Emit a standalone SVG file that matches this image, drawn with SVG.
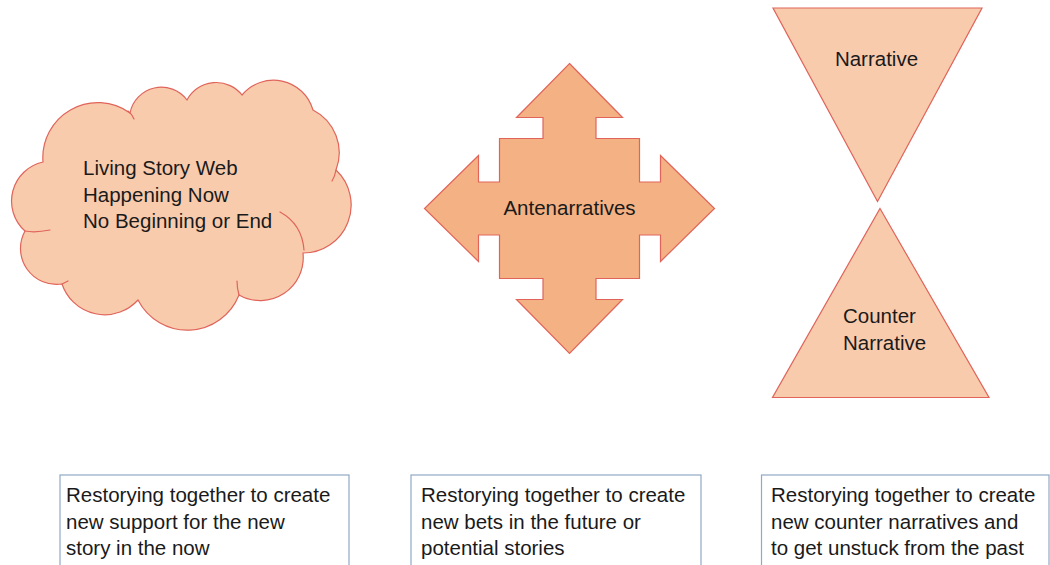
<svg xmlns="http://www.w3.org/2000/svg" width="1050" height="565" viewBox="0 0 1050 565">
  <style>
    .shape { stroke: #E0645A; stroke-width: 1.2; stroke-linejoin: miter; }
    .light { fill: #F8CBAD; }
    .mid { fill: #F4B183; }
    .tail { fill: none; stroke: #E0645A; stroke-width: 1.2; stroke-linecap: round; }
    .label { font-family: "Liberation Sans", Arial, sans-serif; font-size: 20.5px; fill: #1a1a1a; }
    .note { fill: #ffffff; stroke: #8FAAC6; stroke-width: 1.2; }
  </style>

  <rect width="1050" height="565" fill="#ffffff"/>

  <!-- Cloud: living story web -->
  <g id="cloud">
    <path class="shape light" d="M43,162
      A55,55 0 0 1 130,113
      A32,32 0 0 1 187,100
      A33,33 0 0 1 242,95
      A41,41 0 0 1 313,110
      A48,48 0 0 1 336,170
      A48,48 0 0 1 303,253
      A43,43 0 0 1 239,295
      A55.5,55.5 0 0 1 138,300
      A45,45 0 0 1 62,284
      A36,36 0 0 1 25,231
      A40,40 0 0 1 43,162 Z"/>
    <path class="tail" d="M128,111 Q132,114 134,119"/>
    <path class="tail" d="M336,170 Q335,176 332,181"/>
    <path class="tail" d="M304,250 Q302,224 280,212"/>
    <path class="tail" d="M239,295 Q237,288 237,281"/>
    <path class="tail" d="M62,284 Q64,283 68,281"/>
    <path class="tail" d="M25,231 Q35,233 50,230"/>
    <text class="label" x="83" y="175">Living Story Web</text>
    <text class="label" x="83" y="202">Happening Now</text>
    <text class="label" x="83" y="228">No Beginning or End</text>
  </g>

  <!-- Four-way arrow: antenarratives -->
  <g id="antenarratives">
    <polygon class="shape mid" points="569.5,63.5 622.5,117.5 596,117.5 596,138.5 639.5,138.5 639.5,182 660.5,182 660.5,155.5 714.5,208.5 660.5,261.5 660.5,235 639.5,235 639.5,278.5 596,278.5 596,299.5 622.5,299.5 569.5,353.5 516.5,299.5 543,299.5 543,278.5 499.5,278.5 499.5,235 478.5,235 478.5,261.5 424.5,208.5 478.5,155.5 478.5,182 499.5,182 499.5,138.5 543,138.5 543,117.5 516.5,117.5"/>
    <text class="label" x="569.5" y="215" text-anchor="middle">Antenarratives</text>
  </g>

  <!-- Hourglass: narrative over counter narrative -->
  <g id="narrative">
    <polygon class="shape light" points="773,8 982,8 877.5,201.5"/>
    <text class="label" x="876.5" y="66" text-anchor="middle">Narrative</text>
  </g>
  <g id="counter-narrative">
    <polygon class="shape light" points="880,208.5 989,397.5 772.5,397.5"/>
    <text class="label" x="843" y="323">Counter</text>
    <text class="label" x="843" y="349.5">Narrative</text>
  </g>

  <!-- Caption boxes -->
  <g id="caption-now">
    <rect class="note" x="60" y="475" width="289" height="100"/>
    <text class="label" x="66" y="502">Restorying together to create</text>
    <text class="label" x="66" y="528.5">new support for the new</text>
    <text class="label" x="66" y="555">story in the now</text>
  </g>
  <g id="caption-future">
    <rect class="note" x="411" y="475" width="290" height="100"/>
    <text class="label" x="421" y="502">Restorying together to create</text>
    <text class="label" x="421" y="528.5">new bets in the future or</text>
    <text class="label" x="421" y="555">potential stories</text>
  </g>
  <g id="caption-past">
    <rect class="note" x="761.5" y="475" width="287.5" height="100"/>
    <text class="label" x="771" y="502">Restorying together to create</text>
    <text class="label" x="771" y="528.5">new counter narratives and</text>
    <text class="label" x="771" y="555">to get unstuck from the past</text>
  </g>

  <g id="connectors"/>
</svg>
